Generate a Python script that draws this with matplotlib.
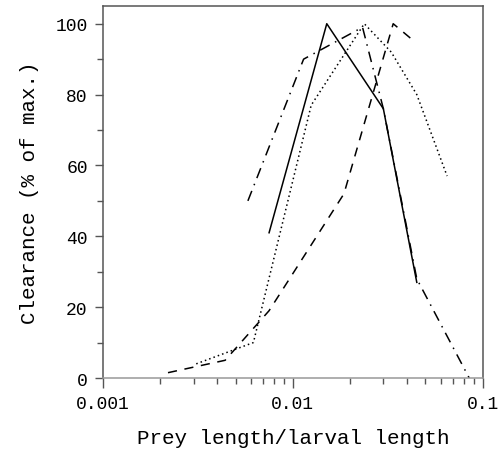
import matplotlib
matplotlib.use('Agg')
import matplotlib.pyplot as plt
from matplotlib.ticker import LogLocator, NullFormatter, FixedLocator

# prey length / larval length  vs  clearance (% of max.)
solid_x = [0.0075, 0.0151, 0.030, 0.045]
solid_y = [41, 100, 76, 27]

dotted_x = [0.0031, 0.0062, 0.0125, 0.0238, 0.033, 0.045, 0.065]
dotted_y = [4, 10, 77, 100, 92, 80, 57]

dashed_x = [0.0022, 0.0044, 0.0075, 0.0186, 0.0338, 0.0437]
dashed_y = [1.5, 5, 19, 52, 100, 95]

dashdot_x = [0.0058, 0.0114, 0.0233, 0.030, 0.045, 0.085]
dashdot_y = [50, 90, 99, 76, 28, 0]

plt.rcParams['font.family'] = ['Liberation Mono', 'DejaVu Sans Mono']

fig = plt.figure(figsize=(4.98, 4.52), dpi=100)
ax = fig.add_axes([0.2068, 0.1615, 0.7623, 0.823])

ax.plot(solid_x, solid_y, color='black', lw=1.1, ls='-')
ax.plot(dotted_x, dotted_y, color='black', lw=1.1, ls=(0, (1, 2)))
ax.plot(dashed_x, dashed_y, color='black', lw=1.1, ls=(0, (6, 5)))
ax.plot(dashdot_x, dashdot_y, color='black', lw=1.1, ls=(0, (7, 4, 1, 4)))

ax.set_xscale('log')
ax.set_xlim(0.001, 0.1)
ax.set_ylim(0, 105)

ax.xaxis.set_major_locator(FixedLocator([0.001, 0.01, 0.1]))
ax.set_xticklabels(['0.001', '0.01', '0.1'])
ax.xaxis.set_minor_locator(LogLocator(base=10, subs=range(2, 10)))
ax.xaxis.set_minor_formatter(NullFormatter())
ax.set_yticks([0, 20, 40, 60, 80, 100])
ax.set_yticks([10, 30, 50, 70, 90], minor=True)

for s in ['left', 'top', 'right']:
    ax.spines[s].set_color('#555555')
    ax.spines[s].set_linewidth(1.1)
ax.spines['bottom'].set_color('#999999')
ax.spines['bottom'].set_linewidth(1.1)

ax.tick_params(which='major', length=7, width=1, color='#555555',
               labelsize=13, pad=5)
ax.tick_params(which='minor', length=4, width=1, color='#555555')
ax.tick_params(axis='y', which='major', length=6)

ax.set_xlabel('Prey length/larval length', fontsize=15, labelpad=12)
ax.set_ylabel('Clearance (% of max.)', fontsize=15, labelpad=12)

fig.savefig('out.png', dpi=100)
